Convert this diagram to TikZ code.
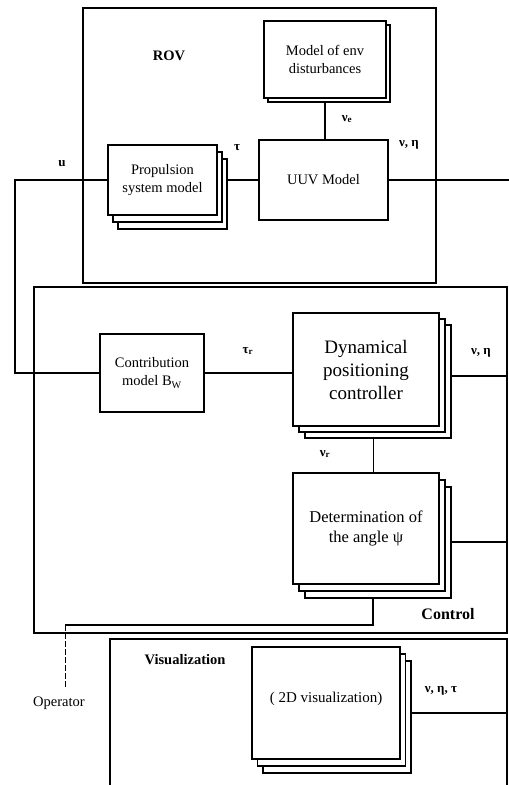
\documentclass[tikz,border=0pt]{standalone}
\usepackage{fontspec}
\setmainfont{Liberation Serif}
\usetikzlibrary{calc}
\begin{document}
\begin{tikzpicture}[x=1pt,y=-1pt,
  blk/.style={draw, line width=1.6pt, fill=white, inner sep=0pt, align=center,
              font=\fontsize{14.5}{18}\selectfont},
  cont/.style={draw, line width=1.1pt, inner sep=0pt},
  wire/.style={line width=1.1pt},
  lbl/.style={font=\fontsize{13}{15}\selectfont\bfseries, inner sep=1pt},
  ttl/.style={font=\fontsize{14.5}{17}\selectfont\bfseries, inner sep=1pt},
  plain/.style={font=\fontsize{14.5}{17}\selectfont, inner sep=1pt}]
\useasboundingbox (0,0) rectangle (509,785);

% containers
\node[cont, minimum width=353, minimum height=275] (rov) at (259.5,145.5) {};
\node[cont, minimum width=473, minimum height=346] (ctrl) at (270.5,460) {};
\coordinate (visbl) at (110,795);
\coordinate (vistl) at (110,639);
\coordinate (vistr) at (507,639);
\coordinate (visbr) at (507,795);
\draw[wire] (visbl) -- (vistl) -- (vistr) -- (visbr);

% titles
\node[ttl] (trov) at (169,56) {ROV};
\node[ttl, font=\fontsize{16}{18}\selectfont\bfseries] (tctrl) at (448,614) {Control};
\node[ttl] (tvis) at (185,660) {Visualization};

% ROV blocks
\node[blk, minimum width=122, minimum height=77] (envb) at (329,63.5) {};
\node[blk, minimum width=122, minimum height=77] (env) at (325,59.5) {Model of env\\disturbances};
\node[blk, minimum width=109, minimum height=70] (prop3) at (172.5,194) {};
\node[blk, minimum width=109, minimum height=70] (prop2) at (167.5,187) {};
\node[blk, minimum width=109, minimum height=70] (prop) at (162.5,180) {Propulsion\\system model};
\node[blk, minimum width=129, minimum height=80] (uuv) at (323.5,180) {UUV Model};

% Control blocks
\node[blk, minimum width=104, minimum height=78] (contr) at (152,373) {Contribution\\model B\textsubscript{W}};
\node[blk, minimum width=146, minimum height=113] (dp3) at (378,381.5) {};
\node[blk, minimum width=146, minimum height=113] (dp2) at (372,375.5) {};
\node[blk, minimum width=146, minimum height=113, font=\fontsize{19}{23}\selectfont] (dp) at (366,369.5) {Dynamical\\positioning\\controller};
\node[blk, minimum width=146, minimum height=111] (det3) at (378,542.5) {};
\node[blk, minimum width=146, minimum height=111] (det2) at (372,535.5) {};
\node[blk, minimum width=146, minimum height=111, font=\fontsize{16.5}{20}\selectfont] (det) at (366,528.5) {\raisebox{10pt}{\begin{tabular}{@{}c@{}}Determination of\\the angle ψ\end{tabular}}};

% Visualization blocks
\node[blk, minimum width=148, minimum height=112] (vis3) at (337,717) {};
\node[blk, minimum width=148, minimum height=112] (vis2) at (331.5,710) {};
\node[blk, minimum width=148, minimum height=112, font=\fontsize{15}{18}\selectfont] (vis) at (326,703) {\raisebox{11pt}{( 2D visualization)}};

% connectors ROV
\coordinate (ucorner) at (15,180);
\coordinate (uout) at (509,180);
\draw[wire] (prop.west) -- (ucorner) -- (ucorner |- contr.west) -- (contr.west);
\draw[wire] (prop3.east |- prop.east) -- (uuv.west);
\draw[wire] (env.south |- envb.south) -- (env.south |- uuv.north);
\draw[wire] (uuv.east) -- (uout);

% connectors Control
\coordinate (dpout) at (507,376);
\coordinate (detout) at (507,542);
\draw[wire] (contr.east) -- (contr.east -| dp.west);
\draw[wire] (dpout -| dp3.east) -- (dpout -| ctrl.east);
\draw[line width=0.8pt] (dp3.south -| 373,0) -- (det.north -| 373,0);
\draw[wire] (detout -| det3.east) -- (detout -| ctrl.east);
\coordinate (opc) at (65,625);
\coordinate (opend) at (65,687);
\draw[wire] (det3.south -| 373,0) -- (opc -| 373,0) -- (opc);
\draw[line width=0.9pt, dash pattern=on 6pt off 2pt] (opc) -- (opend);
\node[plain] (op) at (59,703) {Operator};

% connectors Visualization
\coordinate (visout) at (507,713);
\draw[wire] (visout -| vis3.east) -- (visout);

% signal labels
\node[lbl] (lu) at (62,164) {u};
\node[lbl] (ltau) at (237,148) {τ};
\node[lbl] (lve) at (347,119) {ν\textsubscript{e}};
\node[lbl] (lvn1) at (409,145) {ν, η};
\node[lbl] (ltr) at (248,351) {τ\textsubscript{r}};
\node[lbl] (lvn2) at (481,353) {ν, η};
\node[lbl] (lvr) at (325,454) {ν\textsubscript{r}};
\node[lbl] (lvnt) at (441,691) {ν, η, τ};
\end{tikzpicture}
\end{document}
